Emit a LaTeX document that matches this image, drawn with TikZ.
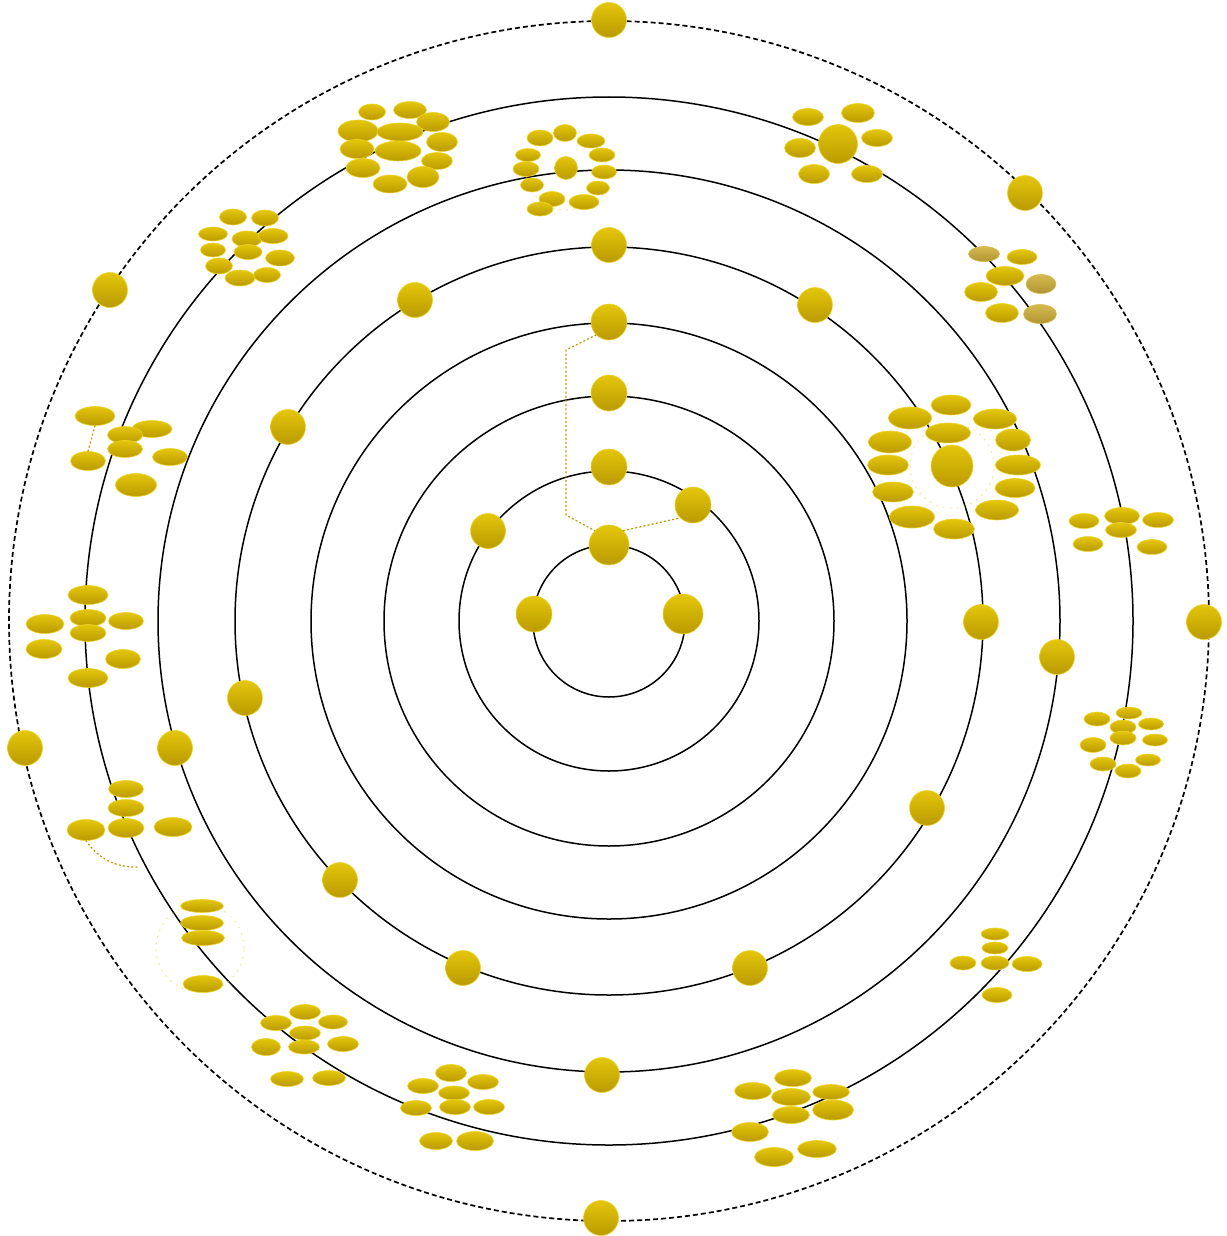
\documentclass[tikz,border=0pt]{standalone}
\usetikzlibrary{shapes.geometric}
\definecolor{goldA}{RGB}{228,198,12}
\definecolor{goldB}{RGB}{186,154,0}
\definecolor{goldE}{RGB}{238,212,40}
\definecolor{oliveA}{RGB}{214,186,80}
\definecolor{oliveB}{RGB}{176,148,50}
\tikzset{
  ring/.style={draw=black, line width=1.5pt},
  outerring/.style={draw=black, line width=1.7pt, dash pattern=on 5pt off 3pt},
  ball/.style={circle, minimum size=#1pt+2pt, inner sep=0pt, top color=goldA, bottom color=goldB, draw=goldE, line width=0.6pt},
  ov/.style 2 args={ellipse, minimum width=#1pt+3pt, minimum height=#2pt+2pt, inner sep=0pt, top color=goldA, bottom color=goldB, draw=goldE, line width=0.6pt},
  ovm/.style 2 args={ellipse, minimum width=#1pt+3pt, minimum height=#2pt+2pt, inner sep=0pt, top color=oliveA, bottom color=oliveB, draw=oliveA, line width=0.6pt},
  link/.style={draw=goldB, line width=1.3pt, dash pattern=on 1.2pt off 3pt, line cap=round},
  faint/.style={draw=goldE, line width=1.1pt, dash pattern=on 1pt off 6pt, line cap=round, opacity=0.55}
}
\begin{document}
\begin{tikzpicture}[x=1pt,y=-1pt]
\useasboundingbox (0,0) rectangle (1226,1236);
\coordinate (O) at (609,621);
\foreach \r in {76,150,225,298,374,451,524} \draw[ring] (O) circle[radius=\r pt];
\draw[outerring] (O) circle[radius=600pt];

% faint dotted cluster rings
\draw[faint] (952,466) circle[radius=42pt];
\draw[faint] (200,948) circle[radius=44pt];
\draw[faint] (566,170) circle[radius=40pt];

% ring nodes
\node[ball=38] (r1t) at (609,545) {};
\node[ball=34] (r1l) at (534,614) {};
\node[ball=38] (r1r) at (683,614) {};
\node[ball=34] (r2t) at (609,467) {};
\node[ball=33] (r2l) at (488,531) {};
\node[ball=34] (r2r) at (693,505) {};
\node[ball=34] (r3t) at (609,393) {};
\node[ball=34] (r4t) at (609,322) {};
\foreach \x/\y [count=\i] in {609/245,415/300,815/305,288/427,981/622,245/698,927/808,340/880,750/968,463/968}
  \node[ball=33] (r5n\i) at (\x,\y) {};
\foreach \x/\y [count=\i] in {1057/657,175/748,602/1075}
  \node[ball=33] (r6n\i) at (\x,\y) {};
\foreach \x/\y [count=\i] in {609/20,1025/193,110/290,1204/622,25/748,601/1218}
  \node[ball=33] (r8n\i) at (\x,\y) {};

% dotted connectors
\coordinate (k1) at (566,350);
\coordinate (k2) at (566,515);
\draw[link] (r4t.south west) -- (k1) -- (k2) -- (r1t.north west);
\draw[link] (r1t.north east) -- (r2r.south west);

% cluster A
\foreach \x/\y/\w/\h [count=\i] in {372/112/24/14,410/110/30/15,433/122/30/17,358/131/37/20,400/132/43/16,442/142/28/17,357/149/31/17,398/151/43/18,437/161/28/15,363/168/31/17,423/177/29/19,390/184/31/16}
  \node[ov={\w}{\h}] (a\i) at (\x,\y) {};
% cluster P
\foreach \x/\y/\w/\h [count=\i] in {233/217/24/14,265/218/24/14,213/234/26/12,247/239/27/14,273/236/27/13,213/250/22/12,248/252/25/13,280/258/26/14,219/266/24/14,240/278/27/14,267/275/24/13}
  \node[ov={\w}{\h}] (p\i) at (\x,\y) {};
% cluster B
\foreach \x/\y/\w/\h [count=\i] in {540/138/23/14,565/133/20/15,591/141/25/12,528/155/22/11,602/155/23/12,526/169/23/13,604/172/22/12,532/185/20/12,598/188/20/12,552/199/23/13,540/209/23/12,584/202/27/13}
  \node[ov={\w}{\h}] (b\i) at (\x,\y) {};
\node[ball=21] (b0) at (566,168) {};
% cluster C
\foreach \x/\y/\w/\h [count=\i] in {808/117/28/15,858/113/30/17,800/148/28/17,877/138/28/15,814/174/28/17,867/174/28/15}
  \node[ov={\w}{\h}] (c\i) at (\x,\y) {};
\node[ball=37] (c0) at (838,144) {};
% cluster D
\node[ovm={28}{13}] (d1) at (984,254) {};
\node[ov={27}{13}] (d2) at (1022,257) {};
\node[ov={35}{17}] (d3) at (1005,276) {};
\node[ovm={27}{17}] (d4) at (1041,284) {};
\node[ov={30}{17}] (d5) at (981,292) {};
\node[ov={30}{17}] (d6) at (1002,313) {};
\node[ovm={30}{17}] (d7) at (1040,314) {};
% cluster E
\foreach \x/\y/\w/\h [count=\i] in {951/405/37/18,910/418/40/20,995/419/40/18,948/433/42/18,890/442/40/20,1013/440/32/20,888/465/38/18,1018/465/42/18,893/492/38/18,1015/488/37/17,912/517/42/20,997/510/40/18,954/529/38/18}
  \node[ov={\w}{\h}] (e\i) at (\x,\y) {};
\node[ball=40] (e0) at (952,466) {};
% cluster F
\foreach \x/\y/\w/\h [count=\i] in {1084/521/27/13,1122/516/32/15,1121/530/28/13,1158/520/28/13,1088/544/27/13,1152/547/27/13}
  \node[ov={\w}{\h}] (f\i) at (\x,\y) {};
% cluster G
\foreach \x/\y/\w/\h [count=\i] in {1129/713/23/10,1097/719/23/12,1151/724/22/10,1123/727/23/12,1123/738/23/12,1155/740/22/10,1093/745/23/13,1103/764/23/12,1148/760/22/10,1128/771/23/12}
  \node[ov={\w}{\h}] (g\i) at (\x,\y) {};
% cluster H
\foreach \x/\y/\w/\h [count=\i] in {995/934/25/10,995/948/23/10,963/963/23/12,995/963/25/12,1027/964/27/13,997/995/27/13}
  \node[ov={\w}{\h}] (h\i) at (\x,\y) {};
% cluster I
\foreach \x/\y/\w/\h [count=\i] in {793/1078/34/15,753/1091/34/15,791/1097/36/15,831/1092/34/13,791/1115/34/15,833/1110/38/18,750/1132/34/17,774/1157/36/17,817/1149/36/15}
  \node[ov={\w}{\h}] (i\i) at (\x,\y) {};
% cluster J
\foreach \x/\y/\w/\h [count=\i] in {451/1073/28/15,423/1086/28/13,483/1082/28/13,454/1093/28/12,416/1108/28/13,455/1107/28/13,489/1107/28/13,436/1141/30/15,475/1141/34/17}
  \node[ov={\w}{\h}] (j\i) at (\x,\y) {};
% cluster K
\foreach \x/\y/\w/\h [count=\i] in {305/1012/28/13,276/1023/28/13,333/1022/26/12,305/1033/28/12,266/1047/26/15,304/1047/28/12,343/1044/28/13,287/1079/30/13,329/1078/30/13}
  \node[ov={\w}{\h}] (kk\i) at (\x,\y) {};
% cluster L
\foreach \x/\y/\w/\h [count=\i] in {202/906/40/11,202/923/40/13,203/938/40/13,203/984/37/15}
  \node[ov={\w}{\h}] (l\i) at (\x,\y) {};
% cluster M
\foreach \x/\y/\w/\h [count=\i] in {126/789/32/15,126/808/33/15,126/828/33/17,86/830/35/19,173/827/35/17}
  \node[ov={\w}{\h}] (m\i) at (\x,\y) {};
\coordinate (m6) at (140,867);
\draw[link] (m4.south) .. controls (98,858) and (115,868) .. (m6);
% cluster N
\foreach \x/\y/\w/\h [count=\i] in {88/595/37/17,88/618/33/15,88/633/33/15,45/624/35/17,126/621/32/15,44/649/33/17,123/659/32/17,88/678/37/17}
  \node[ov={\w}{\h}] (n\i) at (\x,\y) {};
% cluster O
\foreach \x/\y/\w/\h [count=\i] in {95/416/37/17,152/429/37/15,125/435/32/15,125/449/32/15,88/461/32/17,170/457/32/15,136/485/38/21}
  \node[ov={\w}{\h}] (o\i) at (\x,\y) {};
\draw[link] (o1.south) -- (o5.north);
\end{tikzpicture}
\end{document}
